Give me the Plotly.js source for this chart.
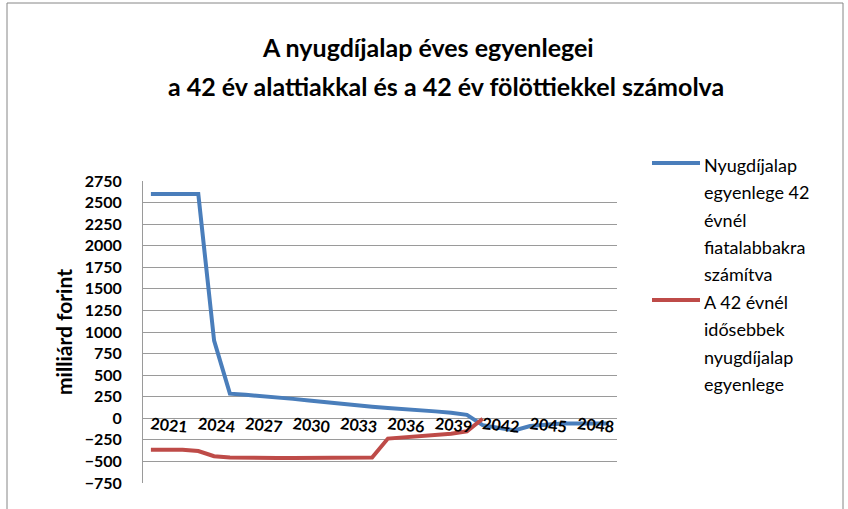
<!DOCTYPE html>
<html>
<head>
<meta charset="utf-8">
<script src="https://cdn.plot.ly/plotly-3.0.1.min.js"></script>
<style>
html,body{margin:0;padding:0;background:#fff;}
#chart{width:848px;height:509px;}
</style>
</head>
<body>
<div id="chart"></div>
<script>
// ---- data ----
const years = [2021,2022,2023,2024,2025,2026,2027,2028,2029,2030,2031,2032,2033,2034,2035,
               2036,2037,2038,2039,2040,2041,2042,2043,2044,2045,2046,2047,2048,2049,2050];
const youngBalance = [2600,2600,2600,2600,900,285,272,260,240,225,205,185,165,150,135,
                      120,110,95,80,65,40,-80,-115,-140,-90,-70,-60,-60,-60,-60];
const olderYears = [2021,2022,2023,2024,2025,2026,2027,2028,2029,2030,2031,
                    2032,2033,2034,2035,2036,2037,2038,2039,2040,2041,2042];
const olderBalance = [-365,-365,-365,-380,-440,-455,-460,-460,-460,-460,-460,
                      -460,-460,-460,-455,-235,-220,-208,-195,-178,-150,-5];
const xTickVals = [2021,2024,2027,2030,2033,2036,2039,2042,2045,2048];
const xTickText = ["2021","2024","2027","2030","2033","2036","2039","2042","2045","2048"];
const yTickVals = [-750,-500,-250,0,250,500,750,1000,1250,1500,1750,2000,2250,2500,2750];
const titleLines = ["A nyugdíjalap éves egyenlegei",
                    "a 42 év alattiakkal és a 42 év fölöttiekkel számolva"];
const yTitle = "milliárd forint";
const seriesNames = ["Nyugdíjalap egyenlege 42 évnél fiatalabbakra számítva",
                     "A 42 évnél idősebbek nyugdíjalap egyenlege"];
const legendLines = [["Nyugdíjalap","egyenlege 42","évnél","fiatalabbakra","számítva"],
                     ["A 42 évnél","idősebbek","nyugdíjalap","egyenlege"]];
const colors = ["#4a7ebb", "#be4b48"];

// ---- layout helpers (pixel -> paper) ----
const L = 143, R = 617, T = 181, B = 483;
const W = R - L, H = B - T;
const fx = p => (p - L) / W;
const fy = p => (B - p) / H;
const FONT = "Lato, 'Open Sans', sans-serif";

const traces = [
  {x: years, y: youngBalance, name: seriesNames[0], type: "scatter", mode: "lines",
   line: {color: colors[0], width: 4}},
  {x: olderYears, y: olderBalance, name: seriesNames[1], type: "scatter", mode: "lines",
   line: {color: colors[1], width: 4}}
];

const annotations = [];
const titleCx = [428, 446], titleCy = [47, 86];
titleLines.forEach((t, i) => {
  annotations.push({text: "<b>" + t + "</b>", xref: "paper", yref: "paper",
    x: fx(titleCx[i]), y: fy(titleCy[i]), xanchor: "center", yanchor: "middle",
    showarrow: false, font: {family: FONT, size: 25, color: "#000"}});
});
const legendStart = [165, 302];
const legendGap = 27.3;
const shapes = [];
legendLines.forEach((lines, k) => {
  lines.forEach((t, i) => {
    annotations.push({text: t, xref: "paper", yref: "paper",
      x: fx(702), y: fy(legendStart[k] + i * legendGap), xanchor: "left", yanchor: "middle",
      showarrow: false, font: {family: FONT, size: 18, color: "#000"}});
  });
  shapes.push({type: "line", xref: "paper", yref: "paper",
    x0: fx(652), x1: fx(700), y0: fy(legendStart[k] - 2), y1: fy(legendStart[k] - 2),
    line: {color: colors[k], width: 4}});
});
// chart frame
shapes.push({type: "rect", xref: "paper", yref: "paper",
  x0: fx(7), x1: fx(843), y0: fy(540), y1: fy(3),
  line: {color: "#868686", width: 1}, fillcolor: "rgba(0,0,0,0)"});

const layout = {
  width: 848, height: 509,
  margin: {l: L, r: 848 - R, t: T, b: 509 - B, pad: 0},
  paper_bgcolor: "#fff", plot_bgcolor: "#fff",
  showlegend: false,
  xaxis: {
    type: "linear", range: [2020.5, 2050.5],
    anchor: "free", position: fy(412),
    tickmode: "array", tickvals: xTickVals, ticktext: xTickText,
    tickangle: 6, showgrid: false, zeroline: false, showline: false, ticks: "",
    tickfont: {family: FONT, size: 16, color: "#000", weight: "bold"}
  },
  yaxis: {
    range: [-750, 2750], tickmode: "array", tickvals: yTickVals,
    showgrid: true, gridcolor: "#9a9a9a", gridwidth: 1, zeroline: false,
    showline: true, linecolor: "#9a9a9a", linewidth: 1, ticks: "",
    ticklabelstandoff: 17,
    tickfont: {family: FONT, size: 16, color: "#000", weight: "bold"},
    title: {text: yTitle, standoff: 6, font: {family: FONT, size: 21, color: "#000", weight: "bold"}}
  },
  annotations: annotations,
  shapes: shapes
};

Plotly.newPlot("chart", traces, layout, {displayModeBar: false, staticPlot: true});
</script>
</body>
</html>
